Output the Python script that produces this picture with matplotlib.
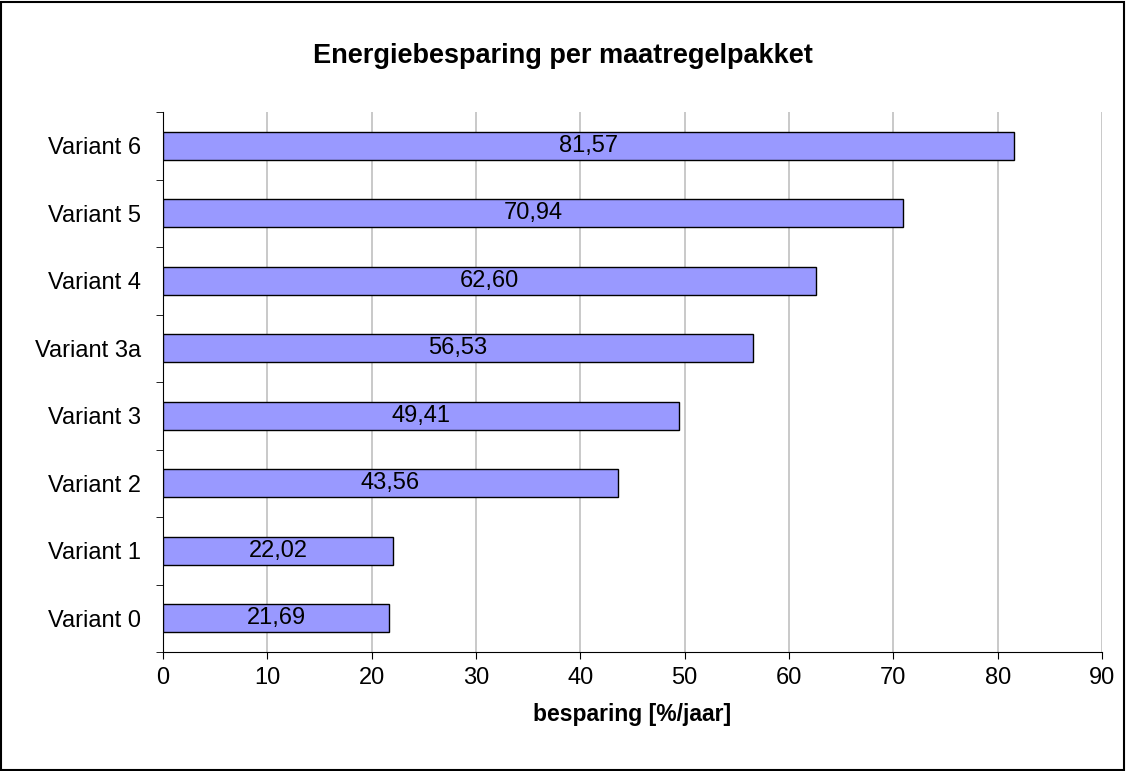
import numpy as np
import matplotlib.pyplot as plt
from matplotlib.patches import Rectangle

plt.rcParams['font.family'] = ['Liberation Sans', 'DejaVu Sans']

categories = ['Variant 0', 'Variant 1', 'Variant 2', 'Variant 3',
              'Variant 3a', 'Variant 4', 'Variant 5', 'Variant 6']
values = [21.69, 22.02, 43.56, 49.41, 56.53, 62.60, 70.94, 81.57]

fig = plt.figure(figsize=(11.26, 7.71), dpi=100)
fig.patches.append(Rectangle((0.001, 0.001), 0.997, 0.997, transform=fig.transFigure,
                             fill=False, edgecolor='black', lw=1.5))
ax = fig.add_axes([0.1448, 0.1543, 0.8339, 0.7004])

y = np.arange(len(categories))
ax.barh(y, values, height=0.41, color='#9999FF', edgecolor='black', lw=1, zorder=3)
for yi, v in zip(y, values):
    ax.text(v / 2, yi, f'{v:.2f}'.replace('.', ','), ha='center', va='center',
            fontsize=17, zorder=4)

ax.set_xlim(0, 90)
ax.set_ylim(-0.5, len(categories) - 0.5)
ax.set_xticks(np.arange(0, 91, 10))
ax.set_yticks(y)
ax.set_yticklabels(categories)
ax.set_yticks(np.arange(-0.5, len(categories), 1), minor=True)
ax.tick_params(axis='y', which='major', length=0, labelsize=17, pad=16)
ax.tick_params(axis='y', which='minor', length=5, direction='out')
ax.tick_params(axis='x', length=5, direction='out', labelsize=17, pad=6)
ax.grid(axis='x', color='#c0c0c0', lw=1.2, zorder=0)
for s in ['top', 'right']:
    ax.spines[s].set_visible(False)
ax.spines['left'].set_color('black')
ax.spines['bottom'].set_color('black')
ax.set_xlabel('besparing [%/jaar]', fontsize=16.5, fontweight='bold', labelpad=10)
fig.text(0.5, 0.928, 'Energiebesparing per maatregelpakket', ha='center', va='center',
         fontsize=19.5, fontweight='bold')

fig.savefig('out.png', dpi=100)
